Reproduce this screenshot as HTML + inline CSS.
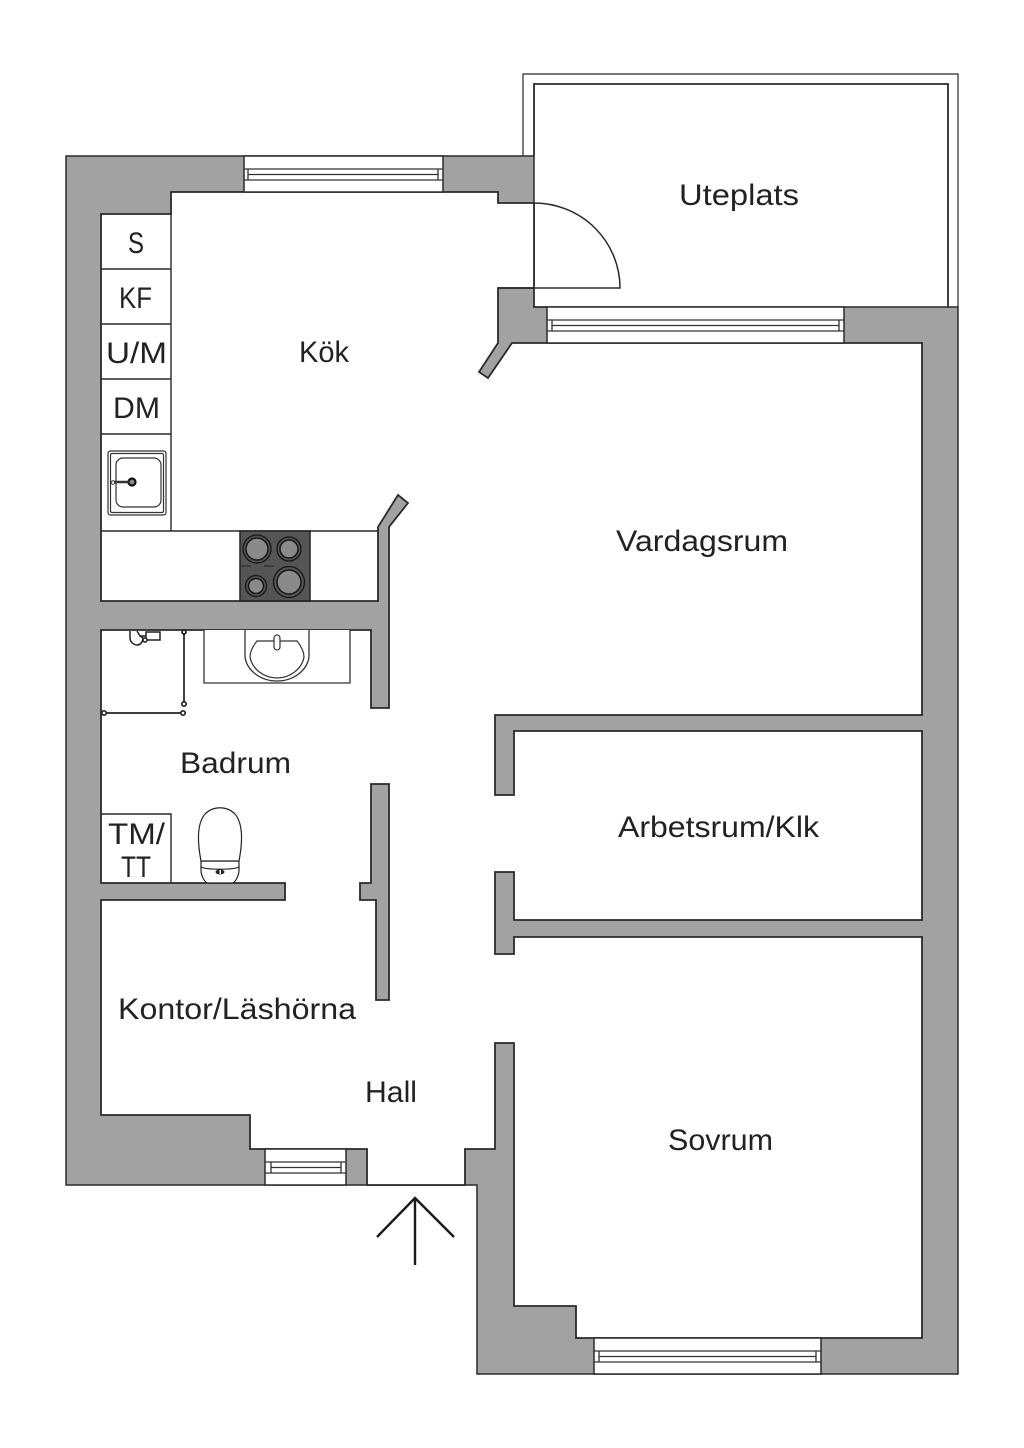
<!DOCTYPE html>
<html><head><meta charset="utf-8"><style>
html,body{margin:0;padding:0;background:#fff}
svg{display:block}
text{font-family:"Liberation Sans",sans-serif;font-size:30px;fill:#222}
</style></head><body>
<svg width="1024" height="1448" viewBox="0 0 1024 1448" xmlns="http://www.w3.org/2000/svg">
<rect width="1024" height="1448" fill="#fff"/>
<g fill="none" stroke="#2a2a2a">
<path d="M534 156V84H948V307" stroke-width="1.800"/>
<path d="M523 156V74H958V307" stroke-width="1.200"/>
</g>
<polygon points="66,156 534,156 534,307 958,307 958,1374 477,1374 477,1185 66,1185" fill="#a2a2a2" stroke="#2a2a2a" stroke-width="1.500" stroke-linejoin="miter"/>
<polygon points="171,192 498,192 498,203 534,203 534,288 498,288 498,343 479,372 488,378 512,343 922,343 922,715 495,715 495,795 514,795 514,731 922,731 922,920 514,920 514,872 495,872 495,954 514,954 514,937 922,937 922,1338 576,1338 576,1306 514,1306 514,1043 495,1043 495,1149 465,1149 465,1185 367,1185 367,1149 250,1149 250,1115 101,1115 101,900 285,900 285,883 101,883 101,630 371,630 371,708 389,708 389,527 408,503 398,495 378,527 378,601 101,601 101,214 171,214" fill="#fff" stroke="#2a2a2a" stroke-width="1.800"/>
<polygon points="371,784 389,784 389,1000 376,1000 376,900 360,900 360,883 371,883" fill="#a2a2a2" stroke="#2a2a2a" stroke-width="1.800"/>
<!-- balcony door gap -->
<rect x="535" y="289" width="12" height="17" fill="#fff"/>
<path d="M534 288V307H547" fill="none" stroke="#2a2a2a" stroke-width="1.500"/>
<path d="M534 203A86 85 0 0 1 620 288H498" fill="none" stroke="#2a2a2a" stroke-width="1.500"/>
<!-- windows -->
<g fill="#fff" stroke="#2a2a2a" stroke-width="1.500">
<rect x="244" y="156" width="199" height="36"/>
<rect x="547" y="307" width="297" height="36"/>
<rect x="265" y="1149" width="81" height="36"/>
<rect x="594" y="1338" width="227" height="36"/>
</g>
<g fill="none" stroke="#333" stroke-width="1.300">
<path d="M244 169H443M244 180H443M248 169V180M438 169V180M248 174.500H438"/>
<path d="M547 320H844M547 331H844M552 320V331M839 320V331M552 325.500H839"/>
<path d="M265 1162H346M265 1173H346M271 1162V1173M341 1162V1173M271 1167.500H341"/>
<path d="M594 1351H821M594 1362H821M599 1351V1362M816 1351V1362M599 1356.500H816"/>
</g>
<!-- cabinets -->
<g fill="#fff" stroke="#2a2a2a" stroke-width="1.400">
<path d="M171 214V531M101 269H171M101 324H171M101 379H171M101 434H171M101 531H378"/>
</g>
<!-- kitchen sink -->
<g fill="none" stroke="#333" stroke-width="1.200">
<rect x="108" y="451" width="58" height="64" rx="2.500"/>
<rect x="110.500" y="453.500" width="53" height="59" rx="1.500"/>
<rect x="116" y="458" width="45" height="49" rx="7"/>
</g>
<circle cx="132" cy="482" r="3.500" fill="#888" stroke="#111" stroke-width="2.200"/>
<path d="M113 482H130" stroke="#333" stroke-width="2.400"/>
<circle cx="113" cy="482.500" r="1.800" fill="#fff" stroke="#333" stroke-width="1"/>
<!-- hob -->
<rect x="240" y="531" width="70" height="70" fill="#555" stroke="#222" stroke-width="1.500"/>
<g fill="#8a8a8a" stroke="#161616">
<circle cx="257" cy="549" r="11" stroke-width="1.500"/>
<circle cx="257" cy="549" r="14" fill="none" stroke-width="1.300"/>
<circle cx="289" cy="549" r="9" stroke-width="1.500"/>
<circle cx="289" cy="549" r="12" fill="none" stroke-width="1.300"/>
<circle cx="256" cy="586" r="7.500" stroke-width="1.500"/>
<circle cx="256" cy="586" r="10.500" fill="none" stroke-width="1.300"/>
<circle cx="289" cy="582" r="12" stroke-width="1.500"/>
<circle cx="289" cy="582" r="15.500" fill="none" stroke-width="1.300"/>
</g>
<path d="M241 566H251M264 566H274" stroke="#222" stroke-width="1"/>
<!-- vanity -->
<path d="M204 630V683H350V630" fill="#fff" stroke="#333" stroke-width="1.300"/>
<path d="M245 630V657C247 671 261 681 277 681C293 681 307 671 309 657V630" fill="#fff" stroke="#333" stroke-width="1.300"/>
<path d="M257 641H297C301 646 304 652 304 657C302 669 290 678 277 678C264 678 252 669 250 657C250 652 253 646 257 641Z" fill="#fff" stroke="#333" stroke-width="1.200"/>
<rect x="274" y="635" width="6" height="15" rx="3" fill="#fff" stroke="#333" stroke-width="1.200"/>
<!-- shower -->
<g stroke="#222" stroke-width="1.700" fill="#fff">
<path d="M184 632V703M104 713H183"/>
<circle cx="184" cy="632" r="2"/>
<circle cx="184" cy="704" r="2.200"/>
<circle cx="104" cy="713" r="2.200"/>
<circle cx="183" cy="713" r="2.200"/>
</g>
<g fill="#fff" stroke="#222" stroke-width="1.500">
<path d="M130 631V638C130 642 134 645 137 645C141 645 143 641 143 638L140 636"/>
<rect x="146" y="632" width="14" height="8"/>
<path d="M137 631L140 636H146"/>
<circle cx="145" cy="640" r="2"/>
</g>
<!-- TM/TT box -->
<path d="M101 814H171V883" fill="none" stroke="#2a2a2a" stroke-width="1.400"/>
<!-- toilet -->
<g fill="#fff" stroke="#222" stroke-width="1.200">
<path d="M201 861V870C201 876 205 883 208 883H232C235 883 239 876 239 870V861Z"/>
<path d="M201 867C207 870 233 870 239 867"/>
<path d="M201 861C197 840 197 822 206 813C214 806 226 806 234 813C243 822 243 840 239 861Z"/>
</g>
<ellipse cx="220" cy="872" rx="4.500" ry="2.500" fill="#222"/>
<rect x="219.500" y="870" width="1.500" height="4" fill="#fff"/>
<!-- entrance arrow -->
<path d="M377 1237L415 1198L454 1237M415 1198V1265" fill="none" stroke="#1a1a1a" stroke-width="2.400"/>
<!-- labels -->
<text x="679" y="205" textLength="120" lengthAdjust="spacingAndGlyphs">Uteplats</text>
<text x="299" y="362" textLength="50" lengthAdjust="spacingAndGlyphs">Kök</text>
<text x="616" y="551" textLength="172" lengthAdjust="spacingAndGlyphs">Vardagsrum</text>
<text x="618" y="837" textLength="201" lengthAdjust="spacingAndGlyphs">Arbetsrum/Klk</text>
<text x="668" y="1150" textLength="105" lengthAdjust="spacingAndGlyphs">Sovrum</text>
<text x="365" y="1102" textLength="52" lengthAdjust="spacingAndGlyphs">Hall</text>
<text x="118" y="1019" textLength="238" lengthAdjust="spacingAndGlyphs">Kontor/Läshörna</text>
<text x="180" y="773" textLength="111" lengthAdjust="spacingAndGlyphs">Badrum</text>
<text x="128" y="253" textLength="16" lengthAdjust="spacingAndGlyphs">S</text>
<text x="119" y="308" textLength="33" lengthAdjust="spacingAndGlyphs">KF</text>
<text x="106" y="363" textLength="61" lengthAdjust="spacingAndGlyphs">U/M</text>
<text x="113" y="418" textLength="47" lengthAdjust="spacingAndGlyphs">DM</text>
<text x="108" y="844" textLength="57" lengthAdjust="spacingAndGlyphs">TM/</text>
<text x="121" y="877" textLength="30" lengthAdjust="spacingAndGlyphs">TT</text>
</svg>
</body></html>
